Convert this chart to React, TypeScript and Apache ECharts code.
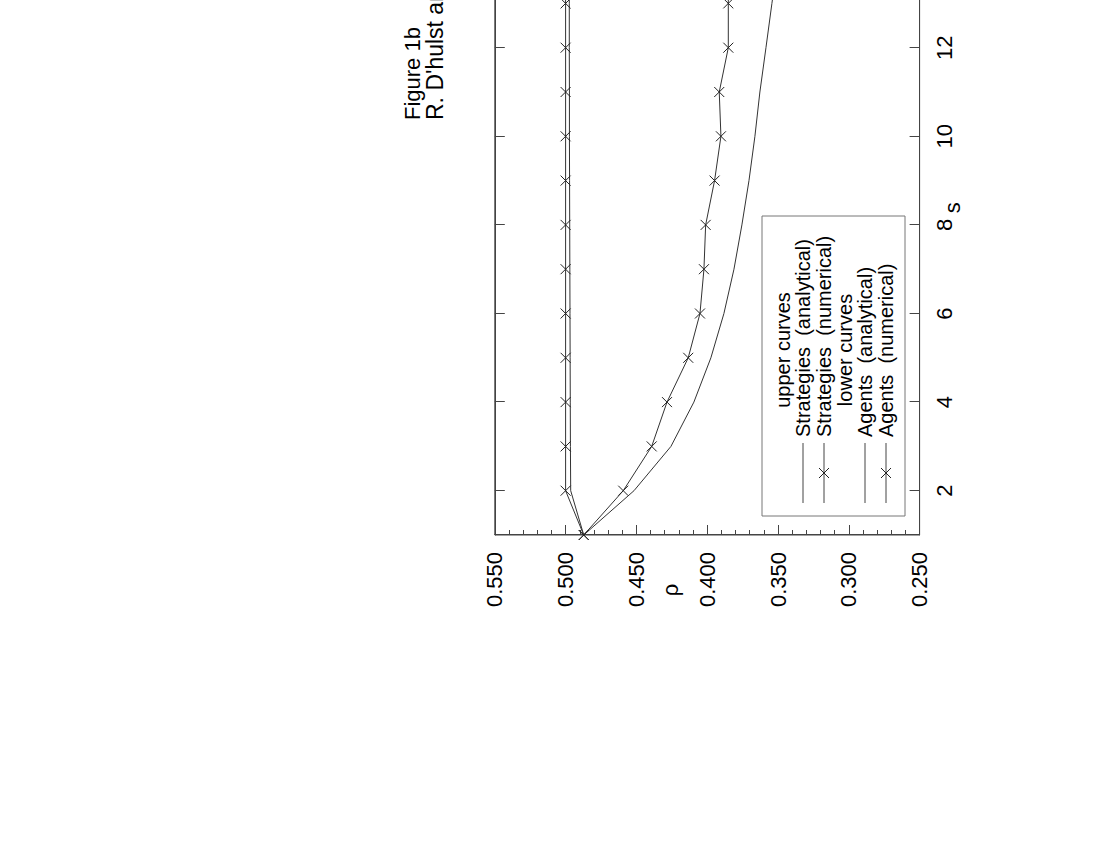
import React, { useEffect, useRef } from "react";
import * as echarts from "echarts";

// ---- data ----
const S_VALUES = [1, 2, 3, 4, 5, 6, 7, 8, 9, 10, 11, 12, 13, 14];
const STRATEGIES_ANALYTICAL = [0.4872, 0.4964, 0.4966, 0.4967, 0.4968, 0.4969, 0.497, 0.4971, 0.4972, 0.4973, 0.4973, 0.4974, 0.4974, 0.4975];
const STRATEGIES_NUMERICAL = [0.4872, 0.5, 0.5, 0.5, 0.5, 0.5, 0.5, 0.5, 0.5, 0.5, 0.5, 0.5, 0.5, 0.5];
const AGENTS_ANALYTICAL = [0.4872, 0.4517, 0.4256, 0.4094, 0.3974, 0.3882, 0.3811, 0.3755, 0.3705, 0.3663, 0.3628, 0.3585, 0.3543, 0.35];
const AGENTS_NUMERICAL = [0.4872, 0.4593, 0.4392, 0.4284, 0.4134, 0.4051, 0.4023, 0.4011, 0.3948, 0.3903, 0.3915, 0.3851, 0.3851, 0.385];
const S_TICKS = [2, 4, 6, 8, 10, 12, 14, 16];
const S_TICK_LABELS = [2, 4, 6, 8, 10, 12];
const TITLE = "Figure 1b";
const SUBTITLE = "R. D'hulst and G.J. Rodgers";
const LEGEND_ROWS = [
  { label: "upper curves", kind: "header" },
  { label: "Strategies  (analytical)", kind: "line" },
  { label: "Strategies  (numerical)", kind: "cross" },
  { label: "lower curves", kind: "header" },
  { label: "Agents  (analytical)", kind: "line" },
  { label: "Agents  (numerical)", kind: "cross" },
];

const FONT = "'Liberation Sans', Arial, Helvetica, sans-serif";
const CROSS = "path://M0 0L10 10M10 0L0 10";

const pairs = (ys: number[]) => S_VALUES.map((s, i) => [s, ys[i]]);

export default function App() {
  const ref = useRef<HTMLDivElement>(null);
  useEffect(() => {
    if (!ref.current) return;
    const chart = echarts.init(ref.current, undefined, { renderer: "svg" });

    const legendX0 = 334;
    const legendY0 = 762;
    const rowY = [783, 803, 824, 845, 865, 886];
    const legendGraphics: any[] = [
      {
        type: "rect",
        shape: { x: legendX0, y: legendY0, width: 300, height: 143 },
        style: { fill: "none", stroke: "#777", lineWidth: 1 },
      },
    ];
    LEGEND_ROWS.forEach((row, i) => {
      const y = rowY[i];
      if (row.kind === "header") {
        legendGraphics.push({
          type: "text",
          x: 500,
          y,
          style: { text: row.label, fontSize: 20, fontFamily: FONT, fill: "#000", align: "center", verticalAlign: "middle" },
        });
      } else {
        legendGraphics.push({
          type: "line",
          shape: { x1: 347, y1: y, x2: 407, y2: y },
          style: { stroke: "#444", lineWidth: 1 },
        });
        if (row.kind === "cross") {
          legendGraphics.push({
            type: "line",
            shape: { x1: 372, y1: y - 5, x2: 382, y2: y + 5 },
            style: { stroke: "#222", lineWidth: 1 },
          });
          legendGraphics.push({
            type: "line",
            shape: { x1: 372, y1: y + 5, x2: 382, y2: y - 5 },
            style: { stroke: "#222", lineWidth: 1 },
          });
        }
        legendGraphics.push({
          type: "text",
          x: 413,
          y,
          style: { text: row.label, fontSize: 20, fontFamily: FONT, fill: "#000", align: "left", verticalAlign: "middle" },
        });
      }
    });

    const lineStyle = { color: "#333", width: 1 };
    const crossItem = { color: "none", borderColor: "#222", borderWidth: 1 };

    chart.setOption({
      animation: false,
      backgroundColor: "#fff",
      title: {
        text: TITLE,
        subtext: SUBTITLE,
        left: 730,
        top: 401,
        itemGap: 0,
        padding: 0,
        textStyle: { fontSize: 22, fontWeight: "normal", color: "#000", fontFamily: FONT },
        subtextStyle: { fontSize: 23, color: "#000", fontFamily: FONT },
      },
      grid: {
        left: 315,
        right: 20.5,
        top: 494.8,
        bottom: 180.4,
        show: true,
        borderColor: "#444",
        borderWidth: 1,
        backgroundColor: "transparent",
      },
      xAxis: [
        {
          type: "value",
          position: "bottom",
          min: 1,
          max: 16,
          name: "s",
          nameLocation: "middle",
          nameGap: 22,
          nameMoveOverlap: false,
          nameTextStyle: { fontSize: 22, color: "#000", fontFamily: FONT, padding: [0, 10, 0, 0] },
          axisLine: { show: true, lineStyle: { color: "#444", width: 1 } },
          axisTick: { show: true, inside: true, length: 10, customValues: S_TICKS, lineStyle: { color: "#444" } },
          axisLabel: { show: true, customValues: S_TICK_LABELS, fontSize: 22, margin: 14, color: "#000", fontFamily: FONT },
          splitLine: { show: false },
        },
        {
          type: "value",
          position: "top",
          min: 1,
          max: 16,
          axisLine: { show: true, lineStyle: { color: "#444", width: 1 } },
          axisTick: { show: true, inside: true, length: 10, customValues: S_TICKS, lineStyle: { color: "#444" } },
          axisLabel: { show: false },
          splitLine: { show: false },
        },
      ],
      yAxis: {
        type: "value",
        min: 0.25,
        max: 0.55,
        interval: 0.05,
        axisLine: { show: true, lineStyle: { color: "#444", width: 1 } },
        axisTick: { show: true, inside: true, length: 10, lineStyle: { color: "#444" } },
        minorTick: { show: true, splitNumber: 5, length: 5, lineStyle: { color: "#444" } },
        axisLabel: {
          fontSize: 22,
          margin: 17,
          color: "#000",
          fontFamily: FONT,
          formatter: (v: number) => v.toFixed(3),
        },
        splitLine: { show: false },
        minorSplitLine: { show: false },
      },
      graphic: [
        {
          type: "text",
          x: 260,
          y: 670,
          style: { text: "ρ", fontSize: 22, fontFamily: FONT, fill: "#000", align: "center", verticalAlign: "middle" },
        },
        ...legendGraphics,
      ],
      series: [
        {
          name: "Strategies (analytical)",
          type: "line",
          data: pairs(STRATEGIES_ANALYTICAL),
          showSymbol: false,
          symbol: "none",
          lineStyle,
        },
        {
          name: "Strategies (numerical)",
          type: "line",
          data: pairs(STRATEGIES_NUMERICAL),
          symbol: CROSS,
          symbolSize: 10,
          itemStyle: crossItem,
          lineStyle,
        },
        {
          name: "Agents (analytical)",
          type: "line",
          data: pairs(AGENTS_ANALYTICAL),
          showSymbol: false,
          symbol: "none",
          lineStyle,
        },
        {
          name: "Agents (numerical)",
          type: "line",
          data: pairs(AGENTS_NUMERICAL),
          symbol: CROSS,
          symbolSize: 10,
          itemStyle: crossItem,
          lineStyle,
        },
      ],
    });
    return () => chart.dispose();
  }, []);

  return (
    <div style={{ position: "fixed", left: 0, top: 0, width: 1100, height: 850, overflow: "hidden", background: "#fff" }}>
      <div
        ref={ref}
        style={{
          position: "absolute",
          left: 0,
          top: 0,
          width: 1000,
          height: 1100,
          transformOrigin: "0 0",
          transform: "translate(0px, 850px) rotate(-90deg)",
        }}
      />
    </div>
  );
}
